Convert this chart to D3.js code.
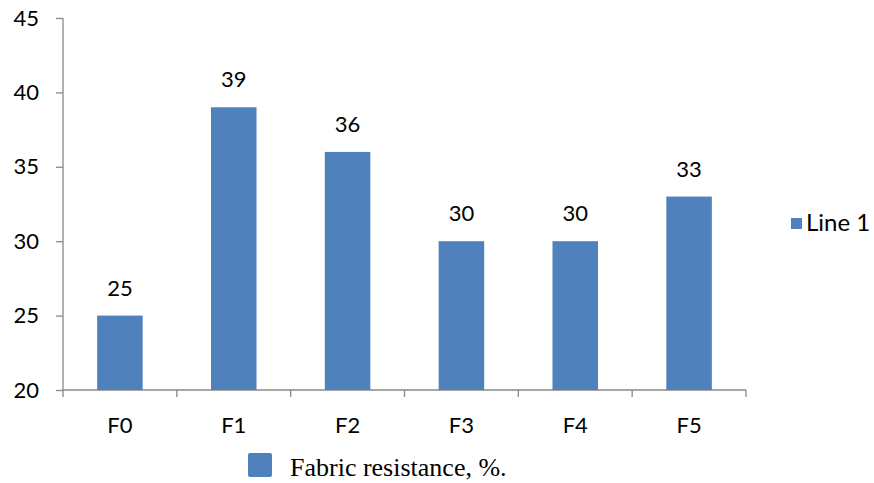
<!DOCTYPE html>
<html>
<head>
<meta charset="utf-8">
<script src="https://cdn.jsdelivr.net/npm/d3@7"></script>
<style>
  body { margin: 0; background: #fff; }
  svg { display: block; }
</style>
</head>
<body>
<svg width="874" height="483"></svg>
<script>
// chart data
const categories = ["F0", "F1", "F2", "F3", "F4", "F5"];
const values = [25, 39, 36, 30, 30, 33];
const yTicks = [20, 25, 30, 35, 40, 45];
const seriesName = "Line 1";
const captionText = "Fabric resistance, %.";

const svg = d3.select("svg");
const barColor = "#4f81bd";
const axisColor = "#898989";
const font = "Lato, 'Open Sans', sans-serif";

let x = d3.scaleBand().domain(categories).range([63, 746]).paddingInner(0.6).paddingOuter(0.3);
let y = d3.scaleLinear().domain([20, 45]).range([390, 18]);

// y axis
let yAxis = svg.append("g").attr("transform", "translate(63,0)")
  .call(d3.axisLeft(y).tickValues(yTicks).tickSize(7).tickPadding(17));
yAxis.selectAll("line, path").attr("stroke", axisColor).attr("stroke-width", 1.3);
yAxis.select(".domain").attr("d", `M0,${y(45)}V${y(20)}`);
yAxis.selectAll("text").style("font-family", font).style("font-size", "22px").attr("fill", "#000");

// x axis, ticks at the band edges
let edges = categories.map(c => x(c) - x.step() * x.paddingInner() / 2);
edges.push(746);
let xAxis = svg.append("g").attr("transform", `translate(0,${y(20)})`);
xAxis.append("line").attr("x1", 63).attr("x2", 746)
  .attr("stroke", axisColor).attr("stroke-width", 1.3);
xAxis.selectAll("line.tk").data(edges).join("line").attr("class", "tk")
  .attr("x1", d => d).attr("x2", d => d).attr("y1", 0).attr("y2", 7)
  .attr("stroke", axisColor).attr("stroke-width", 1.3);
xAxis.selectAll("text").data(categories).join("text")
  .attr("x", d => x(d) + x.bandwidth() / 2).attr("y", 43)
  .attr("text-anchor", "middle")
  .style("font-family", font).style("font-size", "22px")
  .text(d => d);

// bars
svg.append("g").selectAll("rect").data(values).join("rect")
  .attr("x", (d, i) => x(categories[i]))
  .attr("y", d => y(d))
  .attr("width", x.bandwidth())
  .attr("height", d => y(20) - y(d))
  .attr("fill", barColor);

// value labels
svg.append("g").selectAll("text").data(values).join("text")
  .attr("x", (d, i) => x(categories[i]) + x.bandwidth() / 2)
  .attr("y", d => y(d) - 20)
  .attr("text-anchor", "middle")
  .style("font-family", font).style("font-size", "22px")
  .text(d => d);

// right legend
svg.append("rect").attr("x", 791).attr("y", 218).attr("width", 11).attr("height", 11).attr("fill", barColor);
svg.append("text").attr("x", 806).attr("y", 231)
  .style("font-family", font).style("font-size", "24px").text(seriesName);

// bottom caption
svg.append("rect").attr("x", 248).attr("y", 453).attr("width", 24).attr("height", 24)
  .attr("rx", 2).attr("fill", barColor);
svg.append("text").attr("x", 290).attr("y", 476)
  .style("font-family", "'Liberation Serif', 'Times New Roman', serif").style("font-size", "26px")
  .text(captionText);
</script>
</body>
</html>
